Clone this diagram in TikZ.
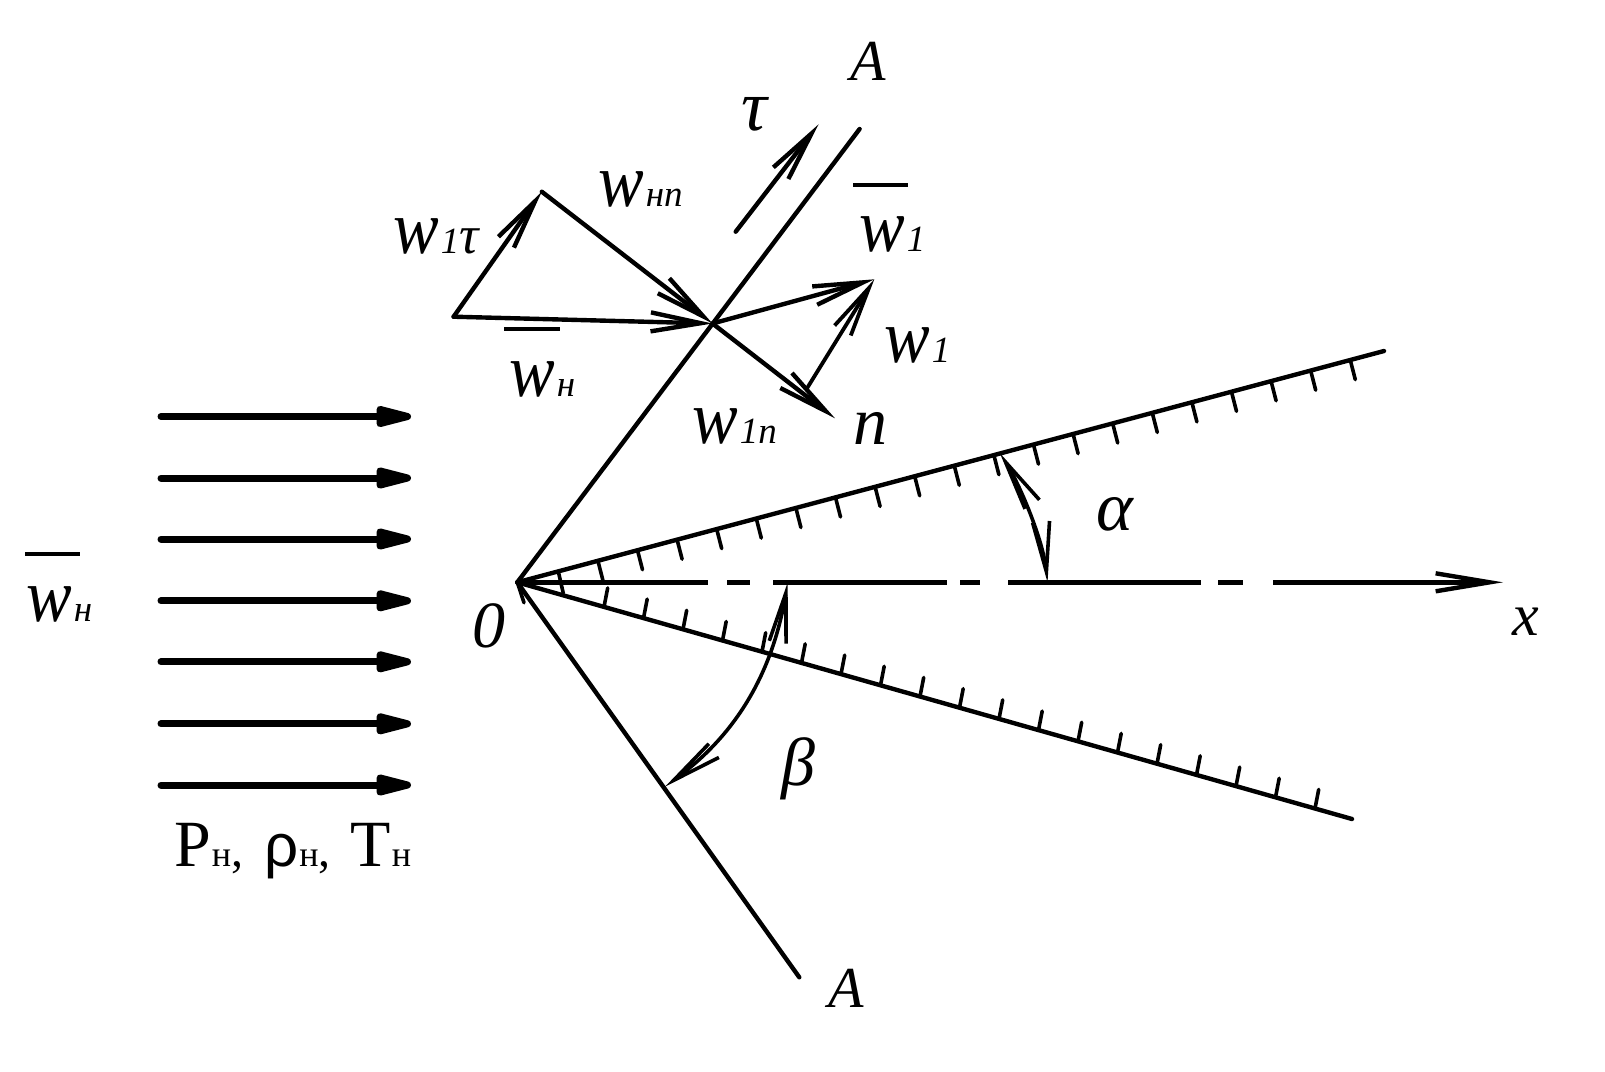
\documentclass[tikz,border=0pt]{standalone}
\usepackage{graphicx}
\usepackage{fontspec}
\setmainfont{Liberation Serif}
\newfontfamily\rhofont{Liberation Sans}
\usetikzlibrary{arrows.meta}
\newcommand\fsz[1]{\fontsize{#1}{#1}\selectfont}
\newcommand\wlab[1]{{\fsz{76}\itshape\scalebox{.9}[1]{w}}\kern 2pt{\fsz{37}\itshape #1}}
\tikzset{
  lab/.style={inner sep=0pt,anchor=base west},
  sym/.style={inner sep=0pt,anchor=base},
  ln/.style={line width=4.4pt,line cap=round,line join=round},
  vec/.style={ln,-{Straight Barb[length=50pt,width=19pt]}},
  tick/.style={line width=3.6pt,line cap=round},
  flow/.style={line width=7pt,line cap=round,-{Stealth[length=47pt,width=21pt,inset=0pt,round]}},
  angarc/.style={line width=3.6pt,line cap=round,{Straight Barb[length=50pt,width=17pt]}-{Straight Barb[length=50pt,width=17pt]}},
  ovb/.style={line width=3.8pt}
}
\begin{document}
\begin{tikzpicture}[x=1pt,y=-1pt]
\useasboundingbox (0,0) rectangle (1605,1071);
\fill[white] (0,0) rectangle (1605,1071);
% points
\coordinate (O) at (517.3,582.3);
\coordinate (At) at (859.6,129);
\coordinate (Ab) at (799.3,977.3);
\coordinate (X) at (1503,582.3);
\coordinate (Wu) at (1384,351);
\coordinate (Wl) at (1352,819);
\coordinate (J) at (712.5,323.5);
\coordinate (Ap) at (541.8,191.7);
\coordinate (Lf) at (453.6,316.7);
\coordinate (W1) at (874.3,279.3);
\coordinate (Nn) at (835,418.3);
\coordinate (Ft) at (807,388.3);
\coordinate (Ts) at (735.7,231.7);
\coordinate (Te) at (818.6,124.3);
\coordinate (Ob) at (524,602.7);
% main lines
\draw[ln] (O) -- (At);
\draw[ln] (O) -- (Ab);
\draw[ln] (O) -- (Wu);
\draw[ln] (O) -- (Wl);
\draw[tick] (O) -- (Ob);
\draw[ln,line cap=butt,dash pattern=on 190.7pt off 19pt on 23pt off 23pt on 174pt off 13pt on 20pt off 28pt on 193pt off 17pt on 25pt off 30pt on 400pt,-{Straight Barb[length=54pt,width=18pt]}] (O) -- (X);
% hatching upper wall
\foreach \k in {1,...,20}{
  \pgfmathsetmacro\bx{558.3+39.6*\k}
  \pgfmathsetmacro\by{582.3-0.2667*(\bx-517.3)}
  \draw[tick] (\bx,\by) -- ++(5,19.5);
}
\coordinate (Tka) at (558.3,571.5);
\coordinate (Tkb) at (563.3,593.3);
\draw[tick] (Tka) -- (Tkb);
% hatching lower wall
\foreach \k in {0,...,18}{
  \pgfmathsetmacro\bx{604+39.5*\k}
  \pgfmathsetmacro\by{582.3+0.2835*(\bx-517.3)}
  \draw[tick] (\bx,\by) -- ++(3.7,-19);
}
% vectors
\draw[vec] (Ts) -- (Te);
\draw[vec] (Lf) -- (Ap);
\draw[vec] (Ap) -- (J);
\draw[vec] (Lf) -- (J);
\draw[vec] (J) -- (W1);
\draw[vec] (J) -- (Nn);
\draw[vec,line width=3.8pt] (Ft) -- (W1);
% angle arcs
\coordinate (Aa) at (1047.5,582.3);
\coordinate (Ab2) at (999.8,453);
\draw[angarc] (Aa) .. controls (1043,540) and (1020,485) .. (Ab2);
\coordinate (Ba) at (787.7,582.3);
\coordinate (Bb) at (665,786.7);
\draw[angarc] (Ba) .. controls (768,700) and (712,752) .. (Bb);
% flow arrows
\foreach \y/\n in {416.5/a,478/b,539/c,600.8/d,661.8/e,723.8/f,785/g}{
  \coordinate (F\n s) at (161,\y);
  \coordinate (F\n e) at (411,\y);
  \draw[flow] (F\n s) -- (F\n e);
}
% over-bars
\coordinate (B1a) at (853,185); \coordinate (B1b) at (908,185);
\coordinate (B2a) at (504,329); \coordinate (B2b) at (560,329);
\coordinate (B3a) at (25,554);  \coordinate (B3b) at (80,554);
\draw[ovb] (B1a) -- (B1b);
\draw[ovb] (B2a) -- (B2b);
\draw[ovb] (B3a) -- (B3b);
% labels
\node[sym,font=\fsz{58}\itshape] (lAt) at (868,80.7) {A};
\node[sym,font=\fsz{58}\itshape] (lAb) at (846,1007) {A};
\node[sym,font=\fsz{72}\itshape] (ltau) at (754,130) {τ};
\node[sym,font=\fsz{68}\itshape] (ln) at (870,444) {n};
\node[sym,font=\fsz{66}\itshape] (lzero) at (488.5,647) {0};
\node[sym,font=\fsz{60}\itshape] (lx) at (1526,635) {x};
\node[sym,font=\fsz{70}\itshape] (lalpha) at (1115,530) {α};
\node[sym,font=\fsz{68}\itshape] (lbeta) at (798,785) {β};
\node[lab] (wnn) at (598,206) {\wlab{нп}};
\node[lab] (wtau) at (393,253) {\wlab{1{\fsz{54}τ}}};
\node[lab] (wone) at (859,251.7) {\wlab{1}};
\node[lab] (wtwo) at (884,362.7) {\wlab{1}};
\node[lab] (whn) at (509,396) {\wlab{н}};
\node[lab] (won) at (692,443.5) {\wlab{1n}};
\node[lab] (wfree) at (26,621.7) {\wlab{н}};
\node[lab] (par) at (174,866) {{\fsz{66}P}\kern 1pt{\fsz{36}н}{\fsz{48},}\kern 21pt{\rhofont\fsz{60}ρ}\kern 1pt{\fsz{36}н}{\fsz{48},}\kern 20pt{\fsz{66}T}\kern 1pt{\fsz{36}н}};
\end{tikzpicture}
\end{document}
